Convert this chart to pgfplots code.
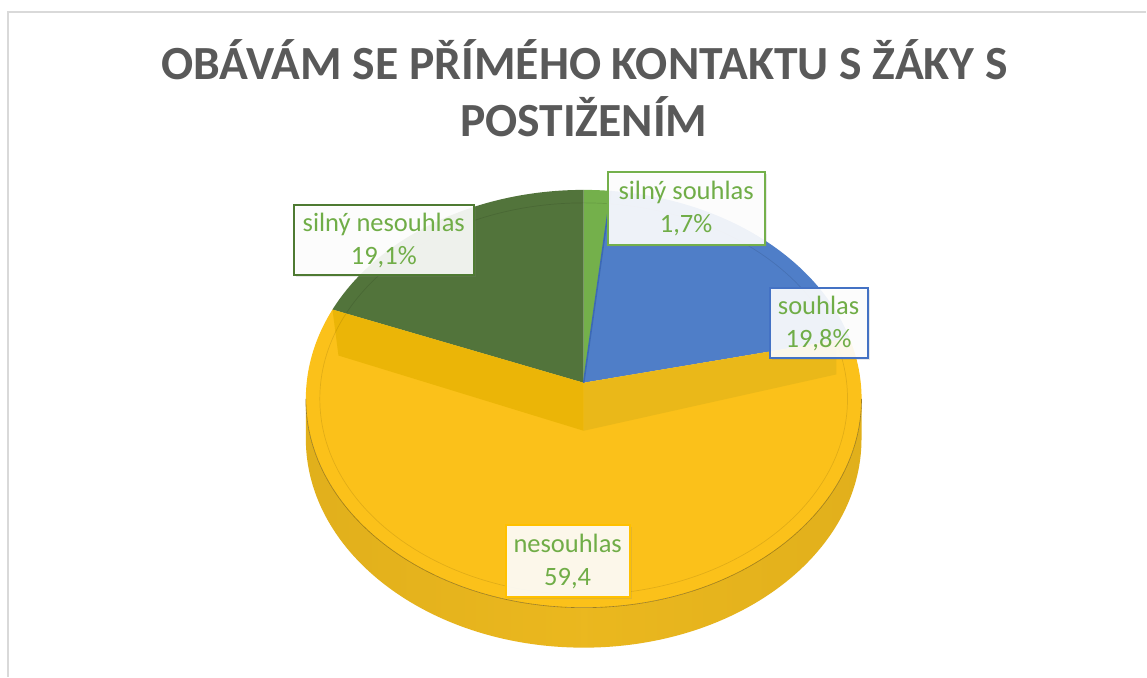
\documentclass[border=0pt]{standalone}
\usepackage{pgfplots}
\pgfplotsset{compat=1.18}
\usepackage{pgfplotstable}
\usepackage{fontspec}
\setmainfont{Carlito}
\usetikzlibrary{shadows}

\definecolor{cLG}{HTML}{74B04B}
\definecolor{cBlue}{HTML}{4F7EC8}
\definecolor{cBlueD}{HTML}{3C69B6}
\definecolor{cYel}{HTML}{FBC11A}
\definecolor{cYelL}{HTML}{EBB507}
\definecolor{cYelR}{HTML}{EAB819}
\definecolor{cDG}{HTML}{52743B}
\definecolor{cTxt}{HTML}{70AD47}
\definecolor{cTitle}{HTML}{595959}
\definecolor{cBorder}{HTML}{D9D9D9}
\definecolor{cBoxY}{HTML}{FFC000}
\definecolor{cBoxB}{HTML}{4472C4}
\definecolor{cBoxDG}{HTML}{4E7A32}

\pgfdeclarehorizontalshading{pieside}{100bp}{rgb(0bp)=(0.50,0.39,0.04); rgb(3bp)=(0.74,0.58,0.07); rgb(10bp)=(0.86,0.67,0.10); rgb(50bp)=(0.92,0.72,0.12); rgb(90bp)=(0.86,0.67,0.10); rgb(97bp)=(0.74,0.58,0.07); rgb(100bp)=(0.50,0.39,0.04)}

\pgfplotstableread[col sep=comma]{
label,value
silný souhlas,1.7
souhlas,19.8
nesouhlas,59.4
silný nesouhlas,19.1
}\piedata

\pgfplotstablegetelem{0}{value}\of\piedata \edef\vA{\pgfplotsretval}
\pgfplotstablegetelem{1}{value}\of\piedata \edef\vB{\pgfplotsretval}
\pgfplotstablegetelem{2}{value}\of\piedata \edef\vC{\pgfplotsretval}
\pgfplotstablegetelem{3}{value}\of\piedata \edef\vD{\pgfplotsretval}

% geometry (pixel units, y downward)
\def\cx{584}\def\ay{383}\def\ey{399}\def\rx{278}\def\ry{209}
\def\pa{277}\def\pb{207.8}\def\pk{0.0765}\def\dep{40}

% boundary angles (clockwise from top)
\pgfmathsetmacro\phiA{90}
\pgfmathsetmacro\phiB{\phiA-3.6*\vA}
\pgfmathsetmacro\phiC{\phiB-3.6*\vB}
\pgfmathsetmacro\phiD{\phiC-3.6*\vC}
\pgfmathsetmacro\phiE{\phiD-3.6*\vD}

\newcommand\rimpt[2]{%
  \pgfmathsetmacro\tmpd{1+\pk*sin(#1)}%
  \pgfmathsetmacro\tmpX{\cx+\pa*cos(#1)/\tmpd}%
  \pgfmathsetmacro\tmpY{\ay-\pb*sin(#1)/\tmpd}%
  \pgfmathsetmacro\tmpP{atan2((\ey-\tmpY)/\ry,(\tmpX-\cx)/\rx)}%
  \pgfmathsetmacro\tmpXX{\cx+\rx*cos(\tmpP)}%
  \pgfmathsetmacro\tmpYY{\ey-\ry*sin(\tmpP)}%
  \expandafter\xdef\csname P#2\endcsname{\tmpP}%
  \expandafter\xdef\csname X#2\endcsname{\tmpXX}%
  \expandafter\xdef\csname Y#2\endcsname{\tmpYY}%
}
\rimpt{\phiA}{A}
\rimpt{\phiB}{B}
\rimpt{\phiC}{C}
\rimpt{\phiD}{D}
\pgfmathsetmacro\PDm{\PD-360}
% right wall corner (inset along the souhlas/nesouhlas edge)
\pgfmathsetmacro\XR{\cx+0.95*(\XC-\cx)}
\pgfmathsetmacro\YR{\ay+0.95*(\YC-\ay)}
\pgfmathsetmacro\YRb{\YR+34}
\pgfmathsetmacro\XLb{\XD+6}
\pgfmathsetmacro\YLb{\YD+46}
\pgfmathsetmacro\ayb{\ay+48}
\pgfmathsetmacro\xl{\cx-\rx}
\pgfmathsetmacro\xr{\cx+\rx}
\pgfmathsetmacro\eyb{\ey+\dep}

\begin{document}
\begin{tikzpicture}
\begin{axis}[scale only axis, width=1147pt, height=677pt,
  xmin=0, xmax=1147, ymin=0, ymax=677, y dir=reverse,
  hide axis, clip=false]
\fill[white] (axis cs:0,0) rectangle (axis cs:1147,677);
\draw[line width=1.3pt, cBorder] (axis cs:8,677) -- (axis cs:8,12) -- (axis cs:1147,12);

% side wall (front)
\path[shading=pieside] (axis cs:\xl,\ey) arc[start angle=180, end angle=360, x radius=\rx pt, y radius=\ry pt]
  -- (axis cs:\xr,\eyb) arc[start angle=0, end angle=-180, x radius=\rx pt, y radius=\ry pt] -- cycle;

% top faces
\fill[cLG] (axis cs:\cx,\ay) -- (axis cs:\XA,\YA) arc[start angle=\PA, end angle=\PB, x radius=\rx pt, y radius=\ry pt] -- cycle;
\fill[cBlue] (axis cs:\cx,\ay) -- (axis cs:\XB,\YB) arc[start angle=\PB, end angle=\PC, x radius=\rx pt, y radius=\ry pt] -- cycle;
\fill[cYel] (axis cs:\cx,\ay) -- (axis cs:\XC,\YC) arc[start angle=\PC, end angle=\PDm, x radius=\rx pt, y radius=\ry pt] -- cycle;
\fill[cDG] (axis cs:\cx,\ay) -- (axis cs:\XD,\YD) arc[start angle=\PD, end angle=90, x radius=\rx pt, y radius=\ry pt] -- cycle;

% inner walls seen in the yellow slice
\fill[cYelL] (axis cs:\XD,\YD) -- (axis cs:\cx,\ay) -- (axis cs:\cx,\ayb) -- (axis cs:\XLb,\YLb) -- cycle;
\fill[cYelR] (axis cs:\cx,\ay) -- (axis cs:\XR,\YR) -- (axis cs:\XR,\YRb) -- (axis cs:\cx,\ayb) -- cycle;
\draw[cBlueD, line width=1.6pt] (axis cs:\cx,\ay) -- (axis cs:\XB,\YB);

% bevel / rim lines
\draw[black, opacity=0.10, line width=0.7pt] (axis cs:\cx,\ey) ellipse[x radius=264pt, y radius=196pt];
\draw[black!60!cYel, opacity=0.6, line width=0.6pt] (axis cs:\xl,\ey) arc[start angle=180, end angle=360, x radius=\rx pt, y radius=\ry pt];

% data labels
\tikzset{lbl/.style={fill=white, fill opacity=0.9, line width=2pt,
  drop shadow={opacity=0.18, shadow xshift=2pt, shadow yshift=-2pt}}}
\filldraw[lbl, draw=cLG] (axis cs:608,172) rectangle (axis cs:765,245);
\filldraw[lbl, draw=cBoxB] (axis cs:770,288) rectangle (axis cs:868,358);
\filldraw[lbl, draw=cBoxDG] (axis cs:294,205) rectangle (axis cs:474,275);
\filldraw[lbl, draw=cBoxY] (axis cs:506,525) rectangle (axis cs:630,597);
\tikzset{lt/.style={align=center, text=cTxt, font=\fontsize{26.5}{33}\selectfont, inner sep=0pt}}
\node[lt] at (axis cs:686.5,209) {silný souhlas\\1,7\%};
\node[lt] at (axis cs:819,324) {souhlas\\19,8\%};
\node[lt] at (axis cs:384,241) {silný nesouhlas\\19,1\%};
\node[lt] at (axis cs:568,562) {nesouhlas\\59,4};

% title
\node[anchor=base, text=cTitle, font=\fontsize{47.6}{56}\selectfont\bfseries, inner sep=0pt] at (axis cs:585,80) {OBÁVÁM SE PŘÍMÉHO KONTAKTU S ŽÁKY S};
\node[anchor=base, text=cTitle, font=\fontsize{47.6}{56}\selectfont\bfseries, inner sep=0pt] at (axis cs:584,137) {POSTIŽENÍM};
\end{axis}
\end{tikzpicture}
\end{document}
